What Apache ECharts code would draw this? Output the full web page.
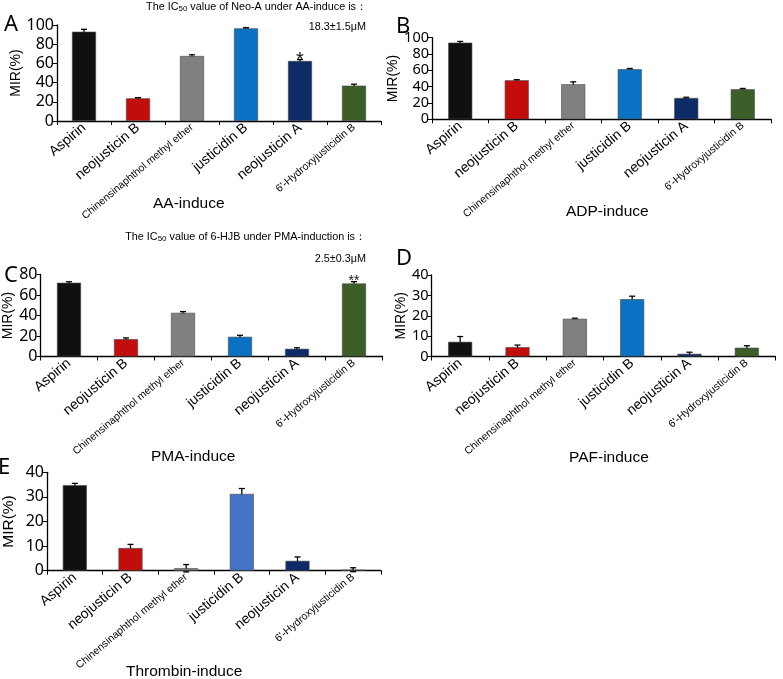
<!DOCTYPE html>
<html>
<head>
<meta charset="utf-8">
<script src="https://cdn.jsdelivr.net/npm/echarts@6/dist/echarts.min.js"></script>
<style>
html,body{margin:0;padding:0;background:#fff;}
#chart{width:783px;height:679px;}
</style>
</head>
<body>
<div id="chart"></div>
<script>
// ---- data ----
const categories = ['Aspirin', 'neojusticin B', 'Chinensinaphthol methyl ether', 'justicidin B', 'neojusticin A', "6'-Hydroxyjusticidin B"];
const smallLabels = ['Chinensinaphthol methyl ether', "6'-Hydroxyjusticidin B"];

const aaValues  = [93.0, 23.6, 67.7, 96.5, 62.5, 36.8];
const aaErrors  = [2.5, 0.7, 1.3, 0.8, 1.5, 1.5];
const aaSig     = ['', '', '', '', '*', ''];

const adpValues = [93.9, 47.8, 42.9, 61.3, 26.1, 36.8];
const adpErrors = [1.5, 0.8, 3.0, 1.0, 0.9, 1.0];

const pmaValues = [71.9, 16.9, 42.6, 19.2, 7.5, 71.2];
const pmaErrors = [1.0, 1.2, 1.2, 1.5, 1.0, 1.8];
const pmaSig    = ['', '', '', '', '', '**'];

const pafValues = [7.2, 4.6, 18.5, 28.1, 1.3, 4.3];
const pafErrors = [2.6, 1.0, 0.3, 1.5, 0.8, 1.0];

const thrValues = [34.8, 9.2, 1.0, 31.2, 4.0, 0.4];
const thrErrors = [0.7, 1.5, 1.5, 2.2, 1.6, 0.8];

const yTicksAB = {max: 100, interval: 20};
const yTicksC  = {max: 80, interval: 20};
const yTicksDE = {max: 40, interval: 10};

// ---- styles ----
const barColors = ['#101010', '#c30d0d', '#808080', '#0a72c2', '#0d2b67', '#3c5f2a'];
const barColorsE = ['#101010', '#c30d0d', '#808080', '#4472c4', '#0d2b67', '#3c5f2a'];

const panels = [
  {values: aaValues,  errors: aaErrors,  sig: aaSig, ticks: yTicksAB, colors: barColors,
   grid: {left: 57, top: 25, width: 324, height: 96}, yFont: 16, nameGap: 25, nameSize: 14},
  {values: adpValues, errors: adpErrors, sig: null, ticks: yTicksAB, colors: barColors,
   grid: {left: 432, top: 37.7, width: 339, height: 81.6}, yFont: 14.5, nameGap: 23, nameSize: 14},
  {values: pmaValues, errors: pmaErrors, sig: pmaSig, ticks: yTicksC, colors: barColors,
   grid: {left: 40.5, top: 274.5, width: 342, height: 82}, yFont: 16, nameGap: 22, nameSize: 14},
  {values: pafValues, errors: pafErrors, sig: null, ticks: yTicksDE, colors: barColors,
   grid: {left: 431.5, top: 275, width: 344, height: 81.5}, yFont: 14.5, nameGap: 23, nameSize: 14},
  {values: thrValues, errors: thrErrors, sig: null, ticks: yTicksDE, colors: barColorsE,
   grid: {left: 46, top: 472.3, width: 335, height: 98.4}, yFont: 16, nameGap: 30, nameSize: 15.5}
];

const grids = [], xAxes = [], yAxes = [], series = [];
panels.forEach((p, k) => {
  grids.push(Object.assign({containLabel: false}, p.grid));
  xAxes.push({
    type: 'category', gridIndex: k, data: categories, boundaryGap: true,
    axisLine: {lineStyle: {color: '#000', width: 1.3}},
    axisTick: {show: true, inside: false, length: 4, interval: 0, lineStyle: {color: '#000'}},
    axisLabel: {
      interval: 0, rotate: 40, margin: 5, color: '#000',
      formatter: v => smallLabels.includes(v) ? '{s|' + v + '}' : '{b|' + v + '}',
      rich: {
        b: {fontFamily: 'Liberation Sans', fontSize: 14, color: '#000'},
        s: {fontFamily: 'Liberation Sans', fontSize: 10.5, color: '#000'}
      }
    }
  });
  yAxes.push({
    type: 'value', gridIndex: k, min: 0, max: p.ticks.max, interval: p.ticks.interval,
    name: 'MIR(%)', nameLocation: 'middle', nameGap: p.nameGap, nameRotate: 90,
    nameTextStyle: {fontFamily: 'Liberation Sans', fontSize: p.nameSize, color: '#000'},
    axisLine: {show: true, lineStyle: {color: '#000', width: 1.3}},
    axisTick: {show: true, length: 4, lineStyle: {color: '#000'}},
    splitLine: {show: false},
    axisLabel: {fontFamily: 'Noto Sans', fontSize: p.yFont, color: '#000', margin: 3}
  });
  series.push({
    type: 'bar', xAxisIndex: k, yAxisIndex: k, barWidth: 24,
    data: p.values.map((v, i) => ({value: v, itemStyle: {color: p.colors[i], borderColor: '#444', borderWidth: 0.6}})),
    animation: false
  });
  const errs = p.errors, sig = p.sig;
  series.push({
    type: 'custom', xAxisIndex: k, yAxisIndex: k, animation: false,
    data: p.values.map((v, i) => [i, v, errs[i]]),
    renderItem: (params, api) => {
      const i = api.value(0), v = api.value(1), e = api.value(2);
      const hi = api.coord([i, v + e]);
      const lo = api.coord([i, v - e]);
      const cap = 3;
      const st = {stroke: '#000', lineWidth: 1.3};
      const children = [
        {type: 'line', shape: {x1: hi[0], y1: hi[1], x2: lo[0], y2: lo[1]}, style: st},
        {type: 'line', shape: {x1: hi[0] - cap, y1: hi[1], x2: hi[0] + cap, y2: hi[1]}, style: st},
        {type: 'line', shape: {x1: lo[0] - cap, y1: lo[1], x2: lo[0] + cap, y2: lo[1]}, style: st}
      ];
      if (sig && sig[i]) {
        const big = sig[i].length === 1;
        children.push({type: 'text', x: hi[0], y: hi[1] + (big ? 11 : 6),
          style: {text: sig[i], fill: '#111', font: (big ? '20px' : '14px') + ' "Liberation Sans"',
                  textAlign: 'center', textVerticalAlign: 'bottom'}});
      }
      return {type: 'group', children};
    }
  });
});

const txt = (text, x, y, size, fam) => ({
  type: 'text', left: x, top: y,
  style: {text, fill: '#000', font: size + 'px "' + (fam || 'Liberation Sans') + '"'}
});

const graphics = [
  txt('A', 4, 14, 22, 'Noto Sans'), txt('B', 396, 16, 22, 'Noto Sans'), txt('C', 4, 265, 22, 'Noto Sans'),
  txt('D', 396, 248, 22, 'Noto Sans'), txt('E', -2, 457, 22, 'Noto Sans'),
  txt('AA-induce', 153, 196, 15.5), txt('ADP-induce', 566, 204, 15.5), txt('PMA-induce', 151, 449, 15.5),
  txt('PAF-induce', 569, 450, 15.5), txt('Thrombin-induce', 126, 664, 15.5)
];

const noteFont = '10.8px "Liberation Sans"';
const subRich = {sub: {fontSize: 8, fontFamily: 'Liberation Sans', fill: '#000', verticalAlign: 'bottom'}};
const option = {
  animation: false,
  backgroundColor: '#fff',
  grid: grids, xAxis: xAxes, yAxis: yAxes, series: series,
  graphic: graphics.concat([
    {type: 'text', right: 783 - 367, top: 2, style: {
      text: 'The IC{sub|50} value of Neo-A under AA-induce is：', fill: '#000', font: noteFont, rich: subRich}},
    {type: 'text', right: 783 - 366, top: 22, style: {text: '18.3±1.5μM', fill: '#000', font: noteFont}},
    {type: 'text', right: 783 - 366, top: 232, style: {
      text: 'The IC{sub|50} value of 6-HJB under PMA-induction is：', fill: '#000', font: noteFont, rich: subRich}},
    {type: 'text', right: 783 - 366, top: 254, style: {text: '2.5±0.3μM', fill: '#000', font: noteFont}}
  ])
};

const chart = echarts.init(document.getElementById('chart'), null, {renderer: 'canvas'});
chart.setOption(option);
</script>
</body>
</html>
